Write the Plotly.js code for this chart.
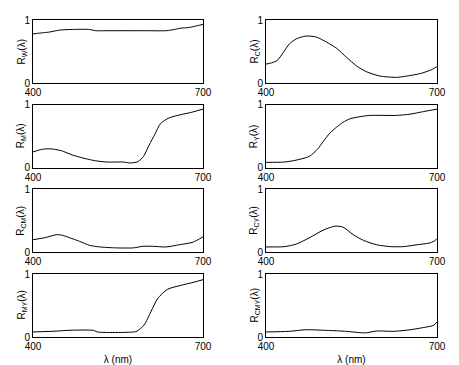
<!DOCTYPE html>
<html>
<head>
<meta charset="utf-8">
<script src="https://cdn.plot.ly/plotly-3.0.1.min.js"></script>
<style>html,body{margin:0;padding:0;background:#fff;}#chart{width:459px;height:365px;}</style>
</head>
<body>
<div id="chart"></div>
<script>
// Data (wavelength in nm, reflectance 0..1)
const wlW = [400, 410, 420, 430, 447, 470, 500, 510, 530, 600, 635, 650, 660, 675, 690, 700];
const rW  = [0.78, 0.79, 0.80, 0.81, 0.84, 0.85, 0.85, 0.83, 0.83, 0.83, 0.83, 0.85, 0.87, 0.88, 0.91, 0.93];

const wlC = [400, 410, 420, 430, 441, 453, 470, 488, 506, 524, 541, 559, 576, 600, 629, 647, 671, 690, 700];
const rC  = [0.30, 0.32, 0.36, 0.48, 0.62, 0.70, 0.745, 0.73, 0.65, 0.55, 0.41, 0.27, 0.18, 0.11, 0.09, 0.11, 0.15, 0.21, 0.26];

const wlM = [400, 415, 430, 450, 470, 490, 510, 530, 560, 570, 585, 595, 605, 615, 625, 640, 660, 680, 700];
const rM  = [0.25, 0.29, 0.30, 0.27, 0.20, 0.15, 0.11, 0.09, 0.09, 0.075, 0.095, 0.18, 0.36, 0.53, 0.70, 0.79, 0.84, 0.88, 0.93];

const wlY = [400, 432, 453, 476, 491, 500, 512, 524, 535, 547, 565, 582, 629, 653, 676, 700];
const rY  = [0.085, 0.09, 0.12, 0.18, 0.30, 0.41, 0.55, 0.645, 0.72, 0.775, 0.81, 0.83, 0.83, 0.85, 0.89, 0.93];

const wlCM = [400, 420, 442, 452, 465, 482, 500, 518, 547, 577, 594, 612, 635, 658, 682, 700];
const rCM  = [0.20, 0.23, 0.28, 0.27, 0.23, 0.175, 0.11, 0.085, 0.07, 0.07, 0.095, 0.095, 0.085, 0.12, 0.16, 0.245];

const wlCY = [400, 432, 453, 476, 500, 521, 535, 553, 571, 594, 618, 641, 665, 688, 697, 700];
const rCY  = [0.085, 0.09, 0.13, 0.23, 0.35, 0.415, 0.40, 0.28, 0.19, 0.12, 0.09, 0.09, 0.12, 0.15, 0.19, 0.22];

const wlMY = [400, 445, 460, 507, 513, 578, 584, 596, 608, 620, 637, 661, 684, 700];
const rMY  = [0.08, 0.095, 0.105, 0.105, 0.08, 0.08, 0.095, 0.19, 0.40, 0.61, 0.755, 0.82, 0.87, 0.91];

const wlCMY = [400, 440, 470, 506, 541, 574, 594, 624, 653, 676, 694, 700];
const rCMY  = [0.08, 0.09, 0.115, 0.105, 0.09, 0.065, 0.095, 0.09, 0.115, 0.15, 0.185, 0.24];

const panelLabels = ["W", "C", "M", "Y", "CM", "CY", "MY", "CMY"];
const xTicks = [400, 700];
const yTicks = [0, 1];
const xTitle = "λ (nm)";

const series = [[wlW, rW], [wlC, rC], [wlM, rM], [wlY, rY], [wlCM, rCM], [wlCY, rCY], [wlMY, rMY], [wlCMY, rCMY]];

// Layout geometry (pixels)
const W = 459, H = 365;
const colX = [[33, 203], [266, 437]];
const rowTop = [20, 104.7, 189.3, 274];
const rowH = 63;

const font = {family: "Liberation Sans, Arial, sans-serif", size: 10, color: "#000"};
const traces = [];
const annotations = [];
const layout = {
  width: W, height: H,
  margin: {l: 0, r: 0, t: 0, b: 0},
  paper_bgcolor: "#fff", plot_bgcolor: "#fff",
  showlegend: false,
  font: font
};

series.forEach((s, i) => {
  const row = Math.floor(i / 2), col = i % 2;
  const n = i + 1;
  const xa = n === 1 ? "xaxis" : "xaxis" + n;
  const ya = n === 1 ? "yaxis" : "yaxis" + n;
  traces.push({
    x: s[0], y: s[1], type: "scatter", mode: "lines",
    line: {color: "#000", width: 1, shape: "spline", smoothing: 0.7},
    xaxis: "x" + (n === 1 ? "" : n), yaxis: "y" + (n === 1 ? "" : n),
    hoverinfo: "skip"
  });
  const top = rowTop[row], bot = rowTop[row] + rowH;
  const xax = {
    domain: [colX[col][0] / W, colX[col][1] / W],
    range: [400, 700], anchor: "y" + (n === 1 ? "" : n),
    tickvals: xTicks, ticks: "", showgrid: false, zeroline: false,
    showline: true, mirror: true, linecolor: "#000", linewidth: 1,
    tickfont: font
  };
  if (row === 3) xax.title = {text: xTitle, font: font, standoff: 4};
  layout[xa] = xax;
  layout[ya] = {
    domain: [1 - bot / H, 1 - top / H],
    range: [0, 1], anchor: "x" + (n === 1 ? "" : n),
    tickvals: yTicks, ticks: "", showgrid: false, zeroline: false,
    showline: true, mirror: true, linecolor: "#000", linewidth: 1,
    tickfont: font
  };
  annotations.push({
    text: "R<sub>" + panelLabels[i] + "</sub>(λ)",
    xref: "paper", yref: "paper",
    x: (colX[col][0] - 12) / W, y: 1 - (top + rowH / 2) / H,
    xanchor: "center", yanchor: "middle",
    textangle: -90, showarrow: false, font: font
  });
});
layout.annotations = annotations;

Plotly.newPlot("chart", traces, layout, {staticPlot: true, displayModeBar: false});
</script>
</body>
</html>
